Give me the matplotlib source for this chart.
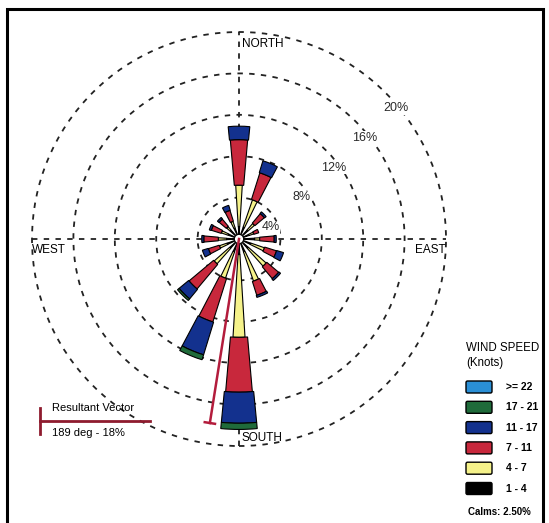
import numpy as np
import matplotlib
matplotlib.use("Agg")
import matplotlib.pyplot as plt
from matplotlib.patches import Wedge, Circle, Rectangle, FancyBboxPatch

plt.rcParams['font.family'] = ['Liberation Sans', 'DejaVu Sans']

# 16 compass sectors, percent of hours per speed class (knots)
directions = [0, 22.5, 45, 67.5, 90, 112.5, 135, 157.5,
              180, 202.5, 225, 247.5, 270, 292.5, 315, 337.5]
spd_1_4 = [1.2, 1.2, 1.1, 1.0, 1.5, 1.2, 1.2, 1.3, 1.5, 1.3, 1.2, 1.2, 1.2, 1.1, 1.1, 1.1]
spd_4_7 = [4.0, 2.8, 0.9, 0.5, 0.5, 1.4, 2.3, 3.0, 8.0, 2.7, 2.0, 0.8, 0.8, 0.7, 0.5, 0.7]
spd_7_11 = [4.4, 2.7, 1.2, 0.5, 1.4, 1.2, 1.5, 1.4, 5.3, 4.4, 3.1, 1.1, 1.4, 1.0, 0.9, 1.1]
spd_11_17 = [1.3, 1.2, 0.2, 0.0, 0.2, 0.7, 0.2, 0.2, 3.0, 3.3, 1.2, 0.6, 0.2, 0.2, 0.2, 0.5]
spd_17_21 = [0.0, 0.0, 0.0, 0.0, 0.0, 0.0, 0.0, 0.0, 0.6, 0.5, 0.2, 0.0, 0.0, 0.0, 0.0, 0.0]
spd_22 = [0.0] * 16

class_labels = [">= 22", "17 - 21", "11 - 17", "7 - 11", "4 - 7", "1 - 4"]
class_colors = ["#2a8fd6", "#1f6b3a", "#13318e", "#c8283c", "#f5f28a", "#000000"]
ring_values = [4, 8, 12, 16, 20]
calms = 2.50
resultant_dir = 189
resultant_pct = 18

# pixel helpers (figure is 549x523, rose centre at pixel 239,239)
PX = 10.35
W, H = 549, 523
CX, CY = 239, 239


def dx(px):
    return (px - CX) / PX


def dy(py):
    return (CY - py) / PX


fig = plt.figure(figsize=(W / 100, H / 100), dpi=100)
ax = fig.add_axes([0, 0, 1, 1])
ax.set_xlim(dx(0), dx(W))
ax.set_ylim(dy(H), dy(0))
ax.axis('off')

# outer frame
fig.patches.append(Rectangle((7 / W, -0.05), (543 - 7) / W, 1 - 9 / H + 0.05,
                             transform=fig.transFigure, fill=False,
                             lw=2.2, ec='black'))

# dashed rings and cross
dash = (0, (3, 3.5))
for r in ring_values:
    ax.add_patch(Circle((0, 0), r, fill=False, ec='#222222', lw=1.3, ls=dash,
                        zorder=1))
    ax.text(r * 0.76, r * 0.72 - 1.75, f"{r}%", fontsize=9, ha='center',
            va='center', color='#2a2a2a', zorder=2,
            bbox=dict(fc='white', ec='none', pad=0.5))
rmax = ring_values[-1]
ax.plot([-rmax, rmax], [0, 0], color='#222222', lw=1.3, ls=dash, zorder=1)
ax.plot([0, 0], [-rmax, rmax], color='#222222', lw=1.3, ls=dash, zorder=1)

# petals: classes drawn inner to outer, wider for faster winds
classes = [spd_1_4, spd_4_7, spd_7_11, spd_11_17, spd_17_21, spd_22]
widths = [6.0, 7.0, 10.0, 11.0, 11.0, 11.0]
colors_inner_out = class_colors[::-1]
for i, b in enumerate(directions):
    base = 0.0
    mid = 90 - b
    for vals, w, col in zip(classes, widths, colors_inner_out):
        v = vals[i]
        if v <= 0:
            continue
        ax.add_patch(Wedge((0, 0), base + v, mid - w / 2, mid + w / 2,
                           width=v, fc=col, ec='black', lw=0.8, zorder=3))
        base += v

ax.add_patch(Circle((0, 0), 0.45, fc='white', ec='black', lw=0.8, zorder=5))

# resultant vector
th = np.deg2rad(resultant_dir)
ex, ey = resultant_pct * np.sin(th), resultant_pct * np.cos(th)
vec_col = '#b31c3c'
ax.plot([0, ex], [0, ey], color=vec_col, lw=1.8, zorder=6)
tx, ty = np.cos(th) * 0.5, -np.sin(th) * 0.5
ax.plot([ex - tx, ex + tx], [ey - ty, ey + ty], color=vec_col, lw=1.8, zorder=6)

# compass labels
ax.text(dx(242), dy(44), "NORTH", fontsize=8.5, ha='left', va='center')
ax.text(dx(241), dy(438), "SOUTH", fontsize=8.5, ha='left', va='center')
ax.text(dx(32), dy(250), "WEST", fontsize=8.5, ha='left', va='center')
ax.text(dx(446), dy(250), "EAST", fontsize=8.5, ha='right', va='center')

# resultant vector key
key_col = '#8e1b2e'
ax.plot([dx(40), dx(150)], [dy(421), dy(421)], color=key_col, lw=2)
ax.plot([dx(40), dx(40)], [dy(408), dy(434)], color=key_col, lw=2)
ax.text(dx(52), dy(408), "Resultant Vector", fontsize=8, ha='left', va='center')
ax.text(dx(52), dy(433), f"{resultant_dir} deg - {resultant_pct}%", fontsize=8,
        ha='left', va='center')

# speed legend
ax.text(dx(466), dy(348), "WIND SPEED", fontsize=8.3, ha='left', va='center')
ax.text(dx(466), dy(363), "(Knots)", fontsize=8.3, ha='left', va='center')
for k, (lab, col) in enumerate(zip(class_labels, class_colors)):
    top = 381 + k * 20.3
    ax.add_patch(FancyBboxPatch((dx(466), dy(top + 12)), 26 / PX, 12 / PX,
                                boxstyle="round,pad=0,rounding_size=0.15",
                                fc=col, ec='black', lw=1.0))
    ax.text(dx(506), dy(top + 6), lab, fontsize=7.5, fontweight='bold',
            ha='left', va='center')
ax.text(dx(468), dy(512), f"Calms: {calms:.2f}%", fontsize=7, fontweight='bold',
        ha='left', va='center')

fig.savefig("out.png", dpi=100)
